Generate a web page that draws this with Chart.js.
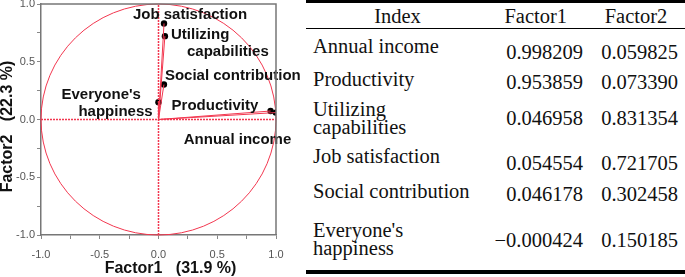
<!DOCTYPE html>
<html lang="en">
<head>
    <meta charset="UTF-8">
    <title>Factor loadings</title>
    <script src="https://cdn.jsdelivr.net/npm/chart.js"></script>
    <style>
        body { margin: 0; width: 685px; height: 277px; background: #fff; position: relative; overflow: hidden; }
        #plot { position: absolute; left: 0; top: 0; }
        #loadings { position: absolute; left: 306px; top: 0; width: 379px; font-family: "Liberation Serif", "Times New Roman", serif; font-size: 20.5px; color: #111; }
        .row { display: flex; box-sizing: border-box; }
        .row > div { box-sizing: border-box; line-height: 18px; }
        .head { height: 29px; border-top: 3px solid #000; border-bottom: 1px solid #000; }
        .c1 { width: 164px; padding-left: 7px; }
        .c2 { width: 113px; text-align: right; }
        .c3 { width: 102px; text-align: right; padding-right: 7px; }
        .head .c1 { text-align: center; padding-left: 0; width: 183px; }
        .head .c2 { width: 78px; }
        .head .c3 { width: 118px; text-align: center; padding-left: 20px; padding-right: 0; }
        .last { border-bottom: 4px solid #000; }
    </style>
</head>
<body>
    <canvas id="plot" width="305" height="277"></canvas>
    <div id="loadings"></div>

    <script>
        // factor loadings (same numbers as the table)
        const indexNames = [['Annual income'], ['Productivity'], ['Utilizing', 'capabilities'], ['Job satisfaction'], ['Social contribution'], ["Everyone's", 'happiness']];
        const factor1 = [0.998209, 0.953859, 0.046958, 0.054554, 0.046178, -0.000424];
        const factor2 = [0.059825, 0.073390, 0.831354, 0.721705, 0.302458, 0.150185];
        const tickValues = [-1.0, -0.5, 0.0, 0.5, 1.0];
        const tickLabels = ['-1.0', '-0.5', '0.0', '0.5', '1.0'];
        const xTitle = 'Factor1\u00a0\u00a0 (31.9 %)';
        const yTitle = 'Factor2\u00a0\u00a0 (22.3 %)';
        const tableHeader = ['Index', 'Factor1', 'Factor2'];

        // label placement, pixel offsets from each point (per text line)
        const labelOffsets = [
            [[-92, 27]],
            [[-99, -5]],
            [[7, 11], [23, 28]],
            [[-32, -21]],
            [[1, -9]],
            [[-97, -7], [-80, 10]]
        ];
        // table row layout: height, value padding
        const rowHeights = [33, 30, 47, 35, 39, 61];
        const valuePad = [14, 11, 17, 15, 11, 18];

        const red = '#f2374f';

        function tickText(v) {
            const i = tickValues.findIndex(t => Math.abs(t - v) < 1e-9);
            return i >= 0 ? tickLabels[i] : '';
        }

        const circlePlugin = {
            id: 'circle',
            beforeDatasetsDraw(chart) {
                const x = chart.scales.x, y = chart.scales.y, ctx = chart.ctx;
                const cx = x.getPixelForValue(0), cy = y.getPixelForValue(0);
                ctx.save();
                ctx.strokeStyle = red;
                ctx.lineWidth = 1;
                ctx.beginPath();
                ctx.ellipse(cx, cy, x.getPixelForValue(1) - cx, cy - y.getPixelForValue(1), 0, 0, Math.PI * 2);
                ctx.stroke();
                ctx.restore();
            }
        };

        const labelPlugin = {
            id: 'labels',
            afterDatasetsDraw(chart) {
                const x = chart.scales.x, y = chart.scales.y, ctx = chart.ctx;
                ctx.save();
                ctx.font = 'bold 15px "Liberation Sans", Arial, sans-serif';
                ctx.fillStyle = '#111';
                ctx.textAlign = 'left';
                ctx.textBaseline = 'middle';
                indexNames.forEach((lines, i) => {
                    const px = x.getPixelForValue(factor1[i]);
                    const py = y.getPixelForValue(factor2[i]);
                    lines.forEach((line, j) => {
                        const off = labelOffsets[i][j];
                        ctx.fillText(line, px + off[0], py + off[1]);
                    });
                });
                // frame on top and right
                const a = chart.chartArea;
                ctx.strokeStyle = '#777';
                ctx.lineWidth = 1.5;
                ctx.beginPath();
                ctx.moveTo(a.left, a.top);
                ctx.lineTo(a.right, a.top);
                ctx.lineTo(a.right, a.bottom);
                ctx.stroke();
                // axis titles
                ctx.font = 'bold 16px "Liberation Sans", Arial, sans-serif';
                ctx.textAlign = 'center';
                ctx.fillText(xTitle, (a.left + a.right) / 2 + 12, 269);
                ctx.translate(8, (a.top + a.bottom) / 2 + 7);
                ctx.rotate(-Math.PI / 2);
                ctx.fillText(yTitle, 0, 0);
                ctx.restore();
            }
        };

        const datasets = [
            { data: [{ x: -1, y: 0 }, { x: 1, y: 0 }], borderColor: red, borderDash: [2, 1], borderWidth: 1.5 },
            { data: [{ x: 0, y: -1 }, { x: 0, y: 1 }], borderColor: red, borderDash: [2, 1], borderWidth: 1.5 }
        ];
        factor1.forEach((f, i) => {
            datasets.push({ data: [{ x: 0, y: 0 }, { x: f, y: factor2[i] }], borderColor: red, borderWidth: 1 });
        });
        datasets.forEach(d => { d.showLine = true; d.pointRadius = 0; });
        datasets.push({
            data: factor1.map((f, i) => ({ x: f, y: factor2[i] })),
            showLine: false, pointRadius: 3.2, backgroundColor: '#000', borderColor: '#000', borderWidth: 0
        });

        const tickFont = { family: '"Liberation Sans", Arial, sans-serif', size: 11 };

        new Chart(document.getElementById('plot'), {
            type: 'scatter',
            data: { datasets: datasets },
            options: {
                responsive: false,
                animation: false,
                layout: { padding: { top: 2, right: 29, left: 0, bottom: 0 } },
                plugins: { legend: { display: false }, tooltip: { enabled: false } },
                scales: {
                    x: {
                        min: -1, max: 1,
                        ticks: { stepSize: 0.25, callback: tickText, font: tickFont, color: '#555', padding: 9, maxRotation: 0, autoSkip: false },
                        grid: { drawOnChartArea: false, tickLength: 4, color: '#888' },
                        border: { color: '#777', width: 1.5 },
                        afterFit(s) { s.height = 42; s.paddingLeft = 0; s.paddingRight = 0; }
                    },
                    y: {
                        min: -1, max: 1,
                        ticks: { stepSize: 0.25, callback: tickText, font: tickFont, color: '#555', padding: 2, autoSkip: false },
                        grid: { drawOnChartArea: false, tickLength: 4, color: '#888' },
                        border: { color: '#777', width: 1.5 },
                        afterFit(s) { s.width = 41; s.paddingTop = 0; s.paddingBottom = 0; }
                    }
                }
            },
            plugins: [circlePlugin, labelPlugin]
        });

        // table of loadings
        const table = document.getElementById('loadings');
        let html = '<div class="row head">' +
            '<div class="c1" style="padding-top:4px">' + tableHeader[0] + '</div>' +
            '<div class="c2" style="padding-top:4px">' + tableHeader[1] + '</div>' +
            '<div class="c3" style="padding-top:4px">' + tableHeader[2] + '</div></div>';
        const fmt = v => v.toFixed(6).replace('-', '\u2212');
        indexNames.forEach((lines, i) => {
            const last = i === indexNames.length - 1 ? ' last' : '';
            html += '<div class="row' + last + '" style="height:' + rowHeights[i] + 'px">' +
                '<div class="c1" style="padding-top:8px">' + lines.join('<br>') + '</div>' +
                '<div class="c2" style="padding-top:' + valuePad[i] + 'px">' + fmt(factor1[i]) + '</div>' +
                '<div class="c3" style="padding-top:' + valuePad[i] + 'px">' + fmt(factor2[i]) + '</div></div>';
        });
        table.innerHTML = html;
    </script>
</body>
</html>
